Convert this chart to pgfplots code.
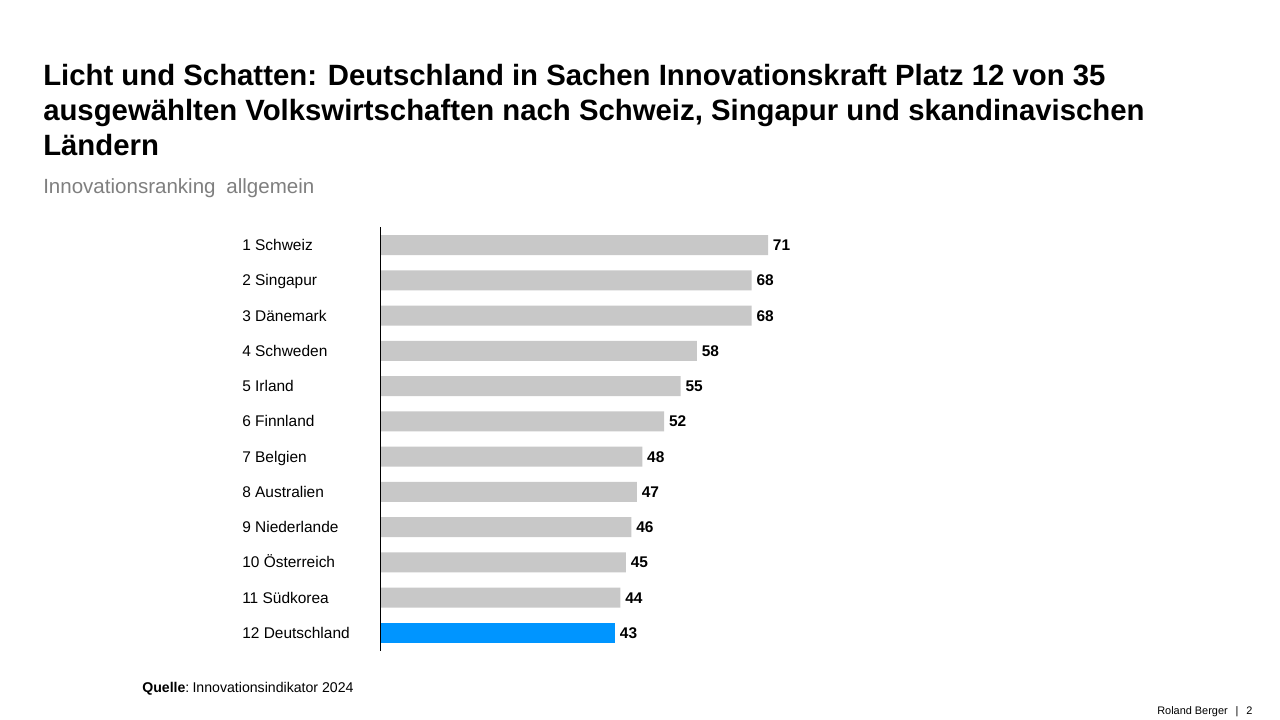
\documentclass[border=0pt]{standalone}
\usepackage{pgfplots}
\pgfplotsset{compat=1.18}
\usepackage{fontspec}
\setmainfont{Liberation Sans}
\definecolor{barg}{RGB}{200,200,200}
\definecolor{barb}{RGB}{0,149,255}
\definecolor{subg}{RGB}{127,127,127}
\begin{document}
\begin{tikzpicture}[x=0.75pt,y=0.75pt]
\fill[white] (0,0) rectangle (1280,720);
\node[anchor=base west, inner sep=0, font=\fontsize{22}{26}\selectfont\bfseries] at (43,634) {Licht und Schatten: Deutschland in Sachen Innovationskraft Platz 12 von 35};
\node[anchor=base west, inner sep=0, font=\fontsize{22}{26}\selectfont\bfseries] at (43,599) {ausgewählten Volkswirtschaften nach Schweiz, Singapur und skandinavischen};
\node[anchor=base west, inner sep=0, font=\fontsize{22}{26}\selectfont\bfseries] at (43,564) {Ländern};
\node[anchor=base west, inner sep=0, text=subg, font=\fontsize{15.4}{18}\selectfont] at (43,526) {Innovationsranking\hspace{0.25em} allgemein};
\begin{axis}[
  at={(285pt,52.05pt)}, anchor=south west,
  scale only axis, width=291pt, height=317.4pt,
  xbar, bar width=15pt, bar shift=0pt,
  xmin=0, xmax=71, ymin=0.5, ymax=12.5,
  axis on top,
  axis x line=none, axis y line*=left,
  axis line style={black, line width=0.75pt},
  ytick={1,...,12},
  yticklabels={12 Deutschland, 11 Südkorea, 10 Österreich, 9 Niederlande, 8 Australien, 7 Belgien, 6 Finnland, 5 Irland, 4 Schweden, 3 Dänemark, 2 Singapur, 1 Schweiz},
  major tick length=0,
  yticklabel style={anchor=west, inner sep=0pt, text height=1.45ex, text depth=0.3ex, xshift=-103.5pt, yshift=-1.1pt, font=\fontsize{11.6}{14}\selectfont},
  clip=false,
  /pgf/number format/assume math mode=true,
  nodes near coords={\textbf{\pgfmathprintnumber{\pgfplotspointmeta}}},
  nodes near coords style={anchor=west, inner sep=3.5pt, text height=1.45ex, text depth=0.3ex, yshift=-1.1pt, font=\fontsize{11.6}{14}\selectfont\bfseries},
]
\addplot[fill=barg, draw=none] coordinates {
(44,2) (45,3) (46,4) (47,5) (48,6) (52,7) (55,8) (58,9) (68,10) (68,11) (71,12)};
\addplot[fill=barb, draw=none] coordinates {(43,1)};
\end{axis}
\node[anchor=base west, inner sep=0, font=\fontsize{10.6}{12}\selectfont] at (142,27) {\textbf{Quelle}:\hspace{-0.15em} Innovationsindikator 2024};
\node[anchor=base west, inner sep=0, font=\fontsize{8.2}{10}\selectfont] at (1157,5) {Roland Berger \ \,|\ \, 2};
\end{tikzpicture}
\end{document}
